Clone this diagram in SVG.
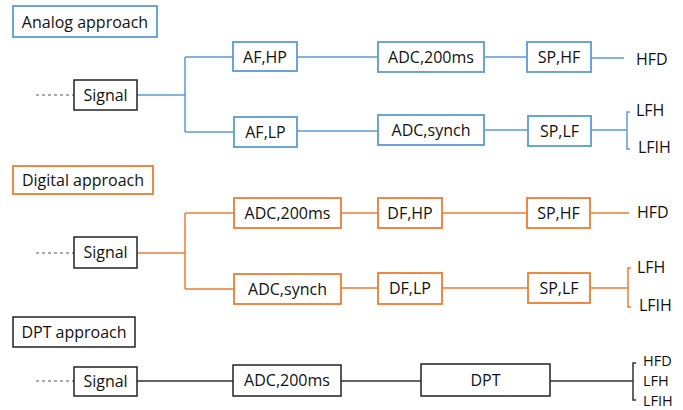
<svg xmlns="http://www.w3.org/2000/svg" width="683" height="410" viewBox="0 0 683 410">
<style>
text{font-family:"Open Sans","Liberation Sans",Arial,sans-serif;font-size:16px;fill:#111;}
.c{text-anchor:middle;}
.s{font-size:14.5px;}
.b{fill:#fff;stroke:#5B9BD5;stroke-width:1.8;}
.o{fill:#fff;stroke:#ED7D31;stroke-width:1.8;}
.k{fill:#fff;stroke:#222;stroke-width:1.5;}
.lb{fill:none;stroke:#5B9BD5;stroke-width:1.5;}
.lo{fill:none;stroke:#ED7D31;stroke-width:1.5;}
.lk{fill:none;stroke:#333;stroke-width:1.5;}
.d{fill:none;stroke:#555;stroke-width:1;stroke-dasharray:3,3;}
</style>
<rect width="683" height="410" fill="#fff"/>
<g id="connectors">
  <path class="d" d="M36 95H74"/>
  <path class="lb" d="M137 95H185M185 57V132M185 57H233M185 132H234M297 57H378M484 57H527M591 58H624M297 131H378M484 130H528M591 130H627M630 112H627V149H630"/>
  <path class="d" d="M36 253H74"/>
  <path class="lo" d="M137 253H185M185 213V289M185 213H234M185 289H234M341 213H378M442 213H527M590 213H629M341 288H378M442 288H528M590 288H628M631 268H628V307H631"/>
  <path class="d" d="M36 381H74"/>
  <path class="lk" d="M137 381H233M341 381H421M550 381H633M636 363H633V400H636"/>
</g>
<g id="analog-title"><rect class="b" x="13" y="6" width="144" height="31"/><text x="85" y="27.5" class="c">Analog approach</text></g>
<g id="analog-signal"><rect class="k" x="74" y="80" width="63" height="30"/><text x="105.5" y="101" class="c">Signal</text></g>
<g id="af-hp"><rect class="b" x="233" y="42" width="64" height="29"/><text x="265" y="62.5" class="c">AF,HP</text></g>
<g id="af-lp"><rect class="b" x="234" y="117" width="63" height="30"/><text x="265.5" y="138" class="c">AF,LP</text></g>
<g id="analog-adc200"><rect class="b" x="378" y="42" width="106" height="30"/><text x="431" y="63" class="c">ADC,200ms</text></g>
<g id="analog-adcsynch"><rect class="b" x="378" y="115" width="106" height="30"/><text x="431" y="136" class="c">ADC,synch</text></g>
<g id="analog-sphf"><rect class="b" x="527" y="42" width="64" height="30"/><text x="559" y="63" class="c">SP,HF</text></g>
<g id="analog-splf"><rect class="b" x="528" y="116" width="63" height="30"/><text x="559.5" y="137" class="c">SP,LF</text></g>
<g id="analog-out"><text x="636" y="65">HFD</text><text x="636" y="116">LFH</text><text x="638" y="153">LFIH</text></g>

<g id="digital-title"><rect class="o" x="13" y="166" width="140" height="28"/><text x="83" y="186" class="c">Digital approach</text></g>
<g id="digital-signal"><rect class="k" x="74" y="237" width="63" height="31"/><text x="105.5" y="258" class="c">Signal</text></g>
<g id="digital-adc200"><rect class="o" x="234" y="198" width="107" height="30"/><text x="287.5" y="219" class="c">ADC,200ms</text></g>
<g id="digital-adcsynch"><rect class="o" x="234" y="274" width="107" height="30"/><text x="287.5" y="295" class="c">ADC,synch</text></g>
<g id="df-hp"><rect class="o" x="378" y="198" width="64" height="30"/><text x="410" y="219" class="c">DF,HP</text></g>
<g id="df-lp"><rect class="o" x="378" y="273" width="64" height="31"/><text x="410" y="294" class="c">DF,LP</text></g>
<g id="digital-sphf"><rect class="o" x="527" y="198" width="63" height="30"/><text x="558.5" y="219" class="c">SP,HF</text></g>
<g id="digital-splf"><rect class="o" x="528" y="273" width="62" height="30"/><text x="559" y="294" class="c">SP,LF</text></g>
<g id="digital-out"><text x="637" y="218">HFD</text><text x="637" y="273">LFH</text><text x="639" y="311">LFIH</text></g>

<g id="dpt-title"><rect class="k" x="13" y="317" width="122" height="30"/><text x="74" y="338" class="c">DPT approach</text></g>
<g id="dpt-signal"><rect class="k" x="74" y="367" width="63" height="29"/><text x="105.5" y="387" class="c">Signal</text></g>
<g id="dpt-adc200"><rect class="k" x="233" y="365" width="108" height="31"/><text x="287" y="386" class="c">ADC,200ms</text></g>
<g id="dpt"><rect class="k" x="421" y="364" width="129" height="32"/><text x="485.5" y="386" class="c">DPT</text></g>
<g id="dpt-out"><text x="643" y="366" class="s">HFD</text><text x="643" y="386" class="s">LFH</text><text x="643" y="406" class="s">LFIH</text></g>
</svg>
